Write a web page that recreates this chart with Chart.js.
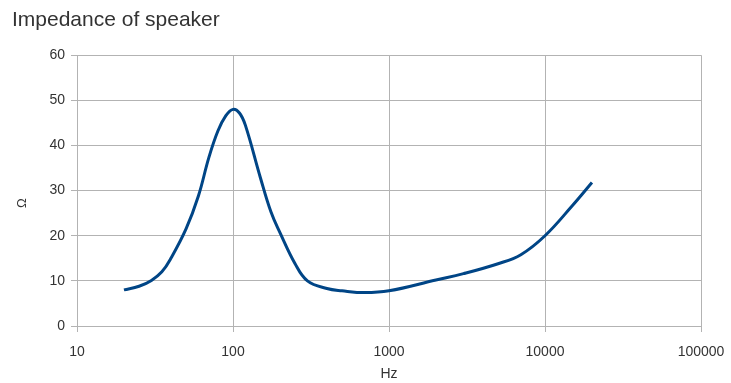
<!DOCTYPE html>
<html>
<head>
<meta charset="utf-8">
<script src="https://cdn.jsdelivr.net/npm/chart.js@4/dist/chart.umd.min.js"></script>
<style>
  html, body { margin: 0; padding: 0; background: #fff; }
  #wrap { width: 731px; height: 383px; }
</style>
</head>
<body>
<div id="wrap"><canvas id="impedanceChart" width="731" height="383"></canvas></div>
<script>
// frequency (Hz) and impedance (ohm)
const freqs = [20, 25, 30, 35, 40, 50, 60, 70, 80, 90, 100, 110, 120, 150, 175, 200, 250, 300, 400, 500, 700, 1000, 2000, 3000, 5000, 7000, 10000, 15000, 20000];
const ohms = [8, 8.8, 10.1, 12, 15, 21.5, 28.8, 37.3, 43.2, 46.6, 48, 47.2, 44.5, 32.8, 25.3, 20.7, 13.8, 10, 8.3, 7.8, 7.4, 7.8, 10.2, 11.6, 13.8, 15.8, 20, 26.7, 31.8];
const xTicks = [10, 100, 1000, 10000, 100000];
const yTicks = [0, 10, 20, 30, 40, 50, 60];

const gridColor = '#b3b3b3';
const textColor = '#333333';
const font = { family: 'Liberation Sans, Arial, sans-serif', size: 14 };

const ctx = document.getElementById('impedanceChart').getContext('2d');
new Chart(ctx, {
  type: 'line',
  data: {
    datasets: [{
      label: 'Impedance',
      data: freqs.map((f, i) => ({ x: f, y: ohms[i] })),
      borderColor: '#004586',
      borderWidth: 3,
      pointRadius: 0,
      fill: false,
      tension: 0.4,
    }]
  },
  options: {
    responsive: false,
    animation: false,
    layout: { padding: { left: 12, right: 0, top: 0, bottom: 0 } },
    plugins: {
      legend: { display: false },
      tooltip: { enabled: false },
      title: {
        display: true,
        text: 'Impedance of speaker',
        align: 'start',
        color: textColor,
        font: { family: font.family, size: 21, weight: 'normal' },
        padding: { top: 8, bottom: 22 },
      },
    },
    scales: {
      x: {
        type: 'logarithmic',
        min: 10,
        max: 100000,
        afterBuildTicks: scale => { scale.ticks = xTicks.map(v => ({ value: v })); },
        afterFit: scale => { scale.height = 57; scale.paddingRight = 30; },
        ticks: {
          color: textColor,
          font: font,
          maxRotation: 0,
          padding: 12,
          callback: v => String(v),
        },
        grid: { color: gridColor, tickLength: 6 },
        border: { color: gridColor },
        title: { display: true, text: 'Hz', color: textColor, font: font, padding: { top: 0, bottom: 0 } },
      },
      y: {
        min: 0,
        max: 60,
        afterBuildTicks: scale => { scale.ticks = yTicks.map(v => ({ value: v })); },
        afterFit: scale => { scale.width = 65; },
        ticks: { color: textColor, font: font, padding: 6 },
        grid: { color: gridColor, tickLength: 6 },
        border: { color: gridColor },
        // trailing spaces nudge the rotated symbol down like in the original
        title: { display: true, text: 'Ω\u00a0\u00a0\u00a0\u00a0\u00a0\u00a0\u00a0', color: textColor, font: { family: font.family, size: 13 }, padding: { top: 3, bottom: 0 } },
      },
    },
  },
});
</script>
</body>
</html>
